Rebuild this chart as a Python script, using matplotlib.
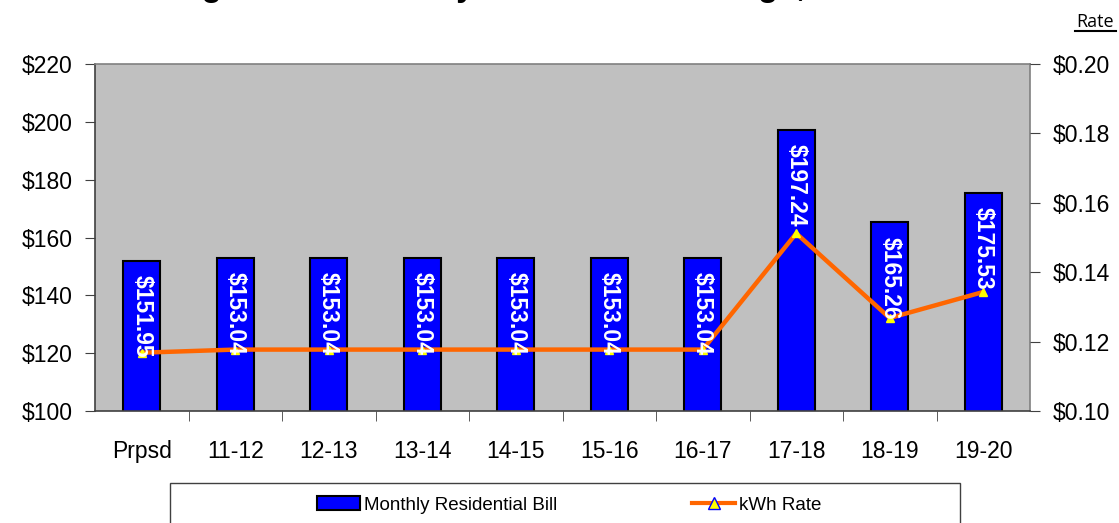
import matplotlib
matplotlib.use('Agg')
from matplotlib import pyplot as plt
from matplotlib.lines import Line2D
from matplotlib.patches import Patch, Rectangle

plt.rcParams['font.family'] = ['Liberation Sans', 'DejaVu Sans']

categories = ['Prpsd', '11-12', '12-13', '13-14', '14-15', '15-16', '16-17', '17-18', '18-19', '19-20']
bill = [151.95, 153.04, 153.04, 153.04, 153.04, 153.04, 153.04, 197.24, 165.26, 175.53]
rate = [0.1168, 0.1177, 0.1177, 0.1177, 0.1177, 0.1177, 0.1177, 0.1512, 0.1268, 0.1343]
left_ticks = [100, 120, 140, 160, 180, 200, 220]
right_ticks = [0.10, 0.12, 0.14, 0.16, 0.18, 0.20]

fig = plt.figure(figsize=(11.19, 5.23), dpi=100)
ax = fig.add_axes([95/1119, 1 - 411/523, 935/1119, 347/523])
ax.set_facecolor('#C0C0C0')

x = list(range(len(categories)))
ax.bar(x, bill, width=0.4, color='#0000FF', edgecolor='black', linewidth=1.5, zorder=2)
ax.set_xlim(-0.5, len(categories) - 0.5)
ax.set_ylim(100, 220)
ax.set_yticks(left_ticks)
ax.set_yticklabels(['$%d' % t for t in left_ticks])
ax.set_xticks(x)
ax.set_xticklabels(categories)
ax.set_xticks([i + 0.5 for i in x[:-1]], minor=True)
ax.tick_params(axis='x', which='major', length=0, labelsize=16.5, pad=21)
ax.tick_params(axis='x', which='minor', length=7, color='#404040', direction='out')
ax.tick_params(axis='y', length=7, color='#404040', labelsize=16.5, pad=9)
for s in ax.spines.values():
    s.set_color('#808080')
    s.set_linewidth(1.2)
ax.spines['left'].set_color('#404040')
ax.spines['bottom'].set_color('#404040')

ax2 = ax.twinx()
ax2.plot(x, rate, color='#FF6600', linewidth=3.2, marker='^', markersize=6,
         markerfacecolor='#FFFF00', markeredgecolor='#FFFF00', zorder=3)
ax2.set_ylim(0.10, 0.20)
ax2.set_yticks(right_ticks)
ax2.set_yticklabels(['$%.2f' % t for t in right_ticks])
ax2.tick_params(axis='y', length=7, color='#404040', labelsize=16.5, pad=9)
for s in ax2.spines.values():
    s.set_visible(False)

# value labels inside bars, a bit below each bar top
for xi, v in zip(x, bill):
    ax2.text(xi, v - 5, '$%.2f' % v, transform=ax.transData, rotation=270,
             ha='center', va='top', color='white', fontsize=16.5,
             fontweight='bold', zorder=5)

# title is cut off by the top edge in the original, only descenders show
fig.text(111/1119, 1.0 + 4/523, 'Average Retail Monthly Residential Average,',
         ha='left', va='baseline', fontsize=23.8, fontweight='bold')
fig.text(1095/1119, 1 - 27/523, 'Rate', ha='center', va='baseline',
         fontsize=13, family='Open Sans')
fig.add_artist(Line2D([1075/1119, 1116/1119], [1 - 31/523, 1 - 31/523],
                      transform=fig.transFigure, color='black', linewidth=1.5))

# legend
fig.add_artist(Rectangle((170/1119, -0.05), 790/1119, 0.05 + 40/523,
                         transform=fig.transFigure, fill=False,
                         edgecolor='#404040', linewidth=1))
handles = [Patch(facecolor='#0000FF', edgecolor='black', linewidth=1.5),
           Line2D([], [], color='#FF6600', linewidth=3, marker='^', markersize=8,
                  markerfacecolor='#FFFF00', markeredgecolor='#0000FF')]
fig.legend(handles, ['Monthly Residential Bill', 'kWh Rate'], ncol=2,
           loc='center left', bbox_to_anchor=(300/1119, 1 - 505/523),
           frameon=False, fontsize=13.5, handlelength=2.3, handletextpad=0.2,
           columnspacing=7.2, handleheight=0.7)

fig.savefig('out.png', dpi=100)
